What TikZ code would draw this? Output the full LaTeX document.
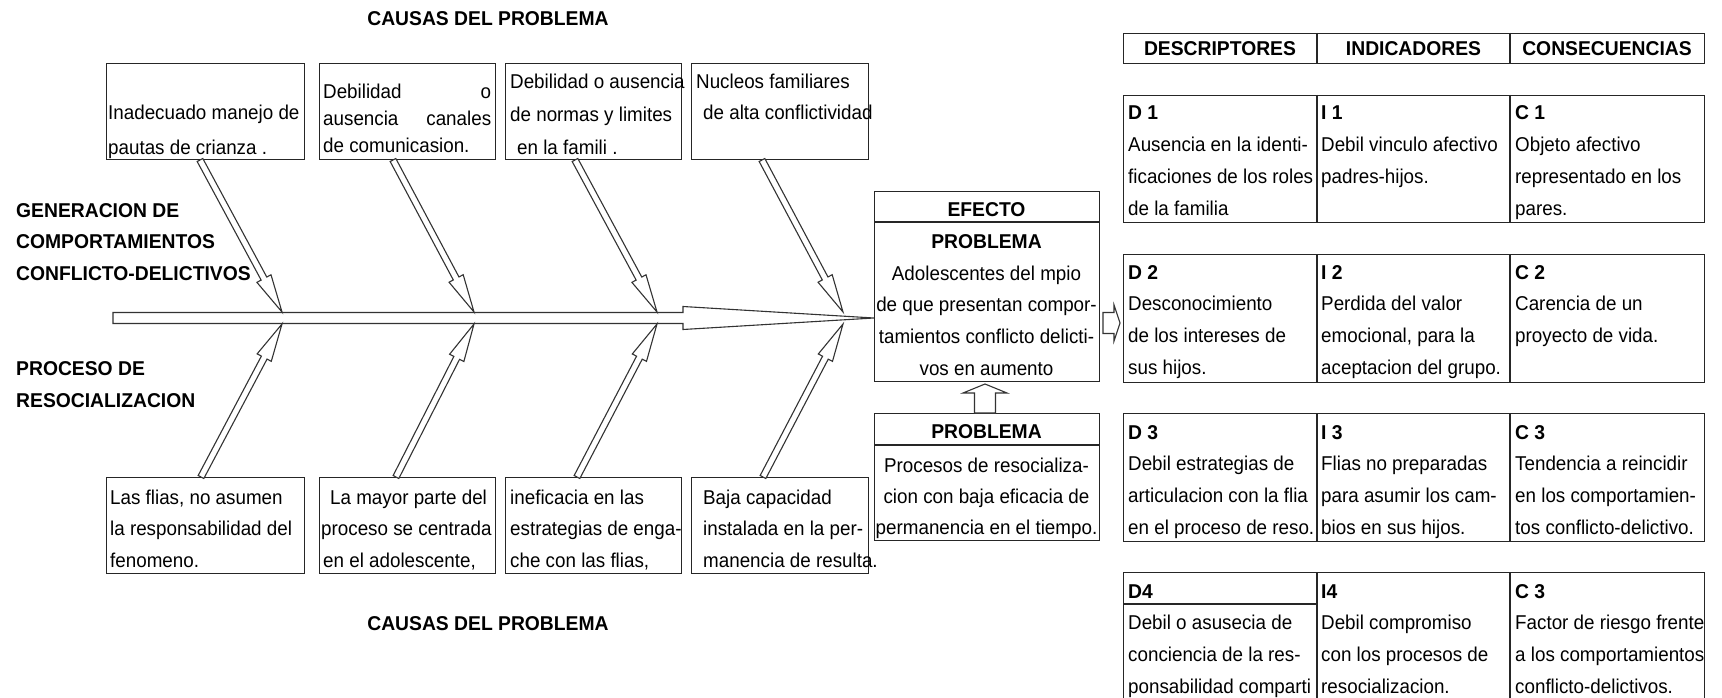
\documentclass[tikz,border=0pt]{standalone}
\usepackage{fontspec}
\setmainfont{Liberation Sans}[FakeStretch=0.94,BoldFeatures={FakeStretch=0.965}]
\usetikzlibrary{calc}
\tikzset{
 txt/.style={inner sep=0pt, font=\fontsize{20}{24}\selectfont, text=black},
 btxt/.style={inner sep=0pt, font=\fontsize{20}{24}\selectfont\bfseries, text=black},
 box/.style={draw=black!85, line width=1.4pt, inner sep=0pt, anchor=north west},
 boxline/.style={draw=black!85, line width=1.4pt},
 harr/.style={draw=black!80, line width=1.1pt, fill=white, line join=miter},
}
\newcommand\txtlines[6]{\foreach \t [count=\i] in {#6}{\node[txt,anchor=#2] (#1-\i) at (#3,{#4+(\i-1)*#5}) {\t};}}
\newcommand\harrow[5]{\coordinate (hb) at ($(#2)!#5!(#1)$);
 \draw[harr] ($(#1)!#3!90:(#2)$) -- ($(hb)!#3!90:(#2)$) -- ($(hb)!#4!90:(#2)$) -- (#2) -- ($(hb)!#4!-90:(#2)$) -- ($(hb)!#3!-90:(#2)$) -- ($(#1)!#3!-90:(#2)$) -- cycle;}
\newcommand\trow[3]{\node[box, minimum width=581pt, minimum height=#3pt-#2pt] (#1) at (1123,#2) {};
 \draw[boxline] (1317,#2) -- (1317,#3); \draw[boxline] (1510,#2) -- (1510,#3);}
\begin{document}
\begin{tikzpicture}[x=1pt,y=-1pt]
\useasboundingbox (0,0) rectangle (1722,698);
\clip (0,0) rectangle (1722,698);
\fill[white] (0,0) rectangle (1722,698);

% titles
\node[btxt,anchor=base] (causas1) at (488,26) {CAUSAS DEL PROBLEMA};
\node[btxt,anchor=base] (causas2) at (488,630) {CAUSAS DEL PROBLEMA};
\node[btxt,anchor=base west] (gen1) at (16,217) {GENERACION DE};
\node[btxt,anchor=base west] (gen2) at (16,248) {COMPORTAMIENTOS};
\node[btxt,anchor=base west] (gen3) at (16,280) {CONFLICTO-DELICTIVOS};
\node[btxt,anchor=base west] (pro1) at (16,375) {PROCESO DE};
\node[btxt,anchor=base west] (pro2) at (16,407) {RESOCIALIZACION};

% spine
\coordinate (spL) at (113,318);
\coordinate (spT) at (874,318);
\harrow{spL}{spT}{5.5pt}{11.5pt}{191pt}

% top boxes
\node[box,minimum width=198pt,minimum height=96pt] (tb1) at (106,63) {};
\node[box,minimum width=176pt,minimum height=96pt] (tb2) at (319,63) {};
\node[box,minimum width=176pt,minimum height=96pt] (tb3) at (505,63) {};
\node[box,minimum width=177pt,minimum height=96pt] (tb4) at (691,63) {};
\txtlines{t1}{base west}{108}{120}{34}{{Inadecuado manejo de},{pautas de crianza .}}
\txtlines{t2}{base west}{323}{99}{27}{{\hbox to 168pt{Debilidad\hfill o}},{\hbox to 168pt{ausencia\hfill canales}},{de comunicasion.}}
\txtlines{t3}{base west}{510}{89}{33}{{Debilidad o ausencia},{de normas y limites},{\hspace*{7pt}en la famili .}}
\node[txt,anchor=base west] (t4-1) at (696,89) {Nucleos familiares};
\node[txt,anchor=base west] (t4-2) at (703,120) {de alta conflictividad};

% bottom boxes
\node[box,minimum width=198pt,minimum height=96pt] (bb1) at (106,477) {};
\node[box,minimum width=176pt,minimum height=96pt] (bb2) at (319,477) {};
\node[box,minimum width=176pt,minimum height=96pt] (bb3) at (505,477) {};
\node[box,minimum width=177pt,minimum height=96pt] (bb4) at (691,477) {};
\txtlines{b1}{base west}{110}{504}{31.5}{{Las flias, no asumen},{la responsabilidad del},{fenomeno.}}
\txtlines{b2}{base west}{321}{504}{31.5}{{\hspace*{9pt}La mayor parte del},{proceso se centrada},{\hspace*{2pt}en el adolescente,}}
\txtlines{b3}{base west}{510}{504}{31.5}{{ineficacia en las},{estrategias de enga-},{che con las flias,}}
\txtlines{b4}{base west}{703}{504}{31.5}{{Baja capacidad},{instalada en la per-},{manencia de resulta.}}

% branch arrows
\coordinate (ta1) at (200,160); \coordinate (te1) at (282,312);
\coordinate (ta2) at (393,160); \coordinate (te2) at (474,312);
\coordinate (ta3) at (575,160); \coordinate (te3) at (657,312);
\coordinate (ta4) at (762,160); \coordinate (te4) at (843,312);
\coordinate (ba1) at (201,477); \coordinate (be1) at (282,324);
\coordinate (ba2) at (396,477); \coordinate (be2) at (474,324);
\coordinate (ba3) at (577,477); \coordinate (be3) at (657,324);
\coordinate (ba4) at (763,477); \coordinate (be4) at (843,324);
\foreach \k in {1,2,3,4}{
 \harrow{ta\k}{te\k}{3.2pt}{8pt}{38pt}
 \harrow{ba\k}{be\k}{3.2pt}{8pt}{38pt}
}

% effect box
\node[box,minimum width=225pt,minimum height=190pt] (eff) at (874,191) {};
\draw[boxline] (874,222) -- (1099,222);
\node[btxt,anchor=base] (effT) at (986.5,216) {EFECTO};
\node[btxt,anchor=base] (effP) at (986.5,248) {PROBLEMA};
\txtlines{e}{base}{986.5}{280}{31.7}{{Adolescentes del mpio},{de que presentan compor-},{tamientos conflicto delicti-},{vos en aumento}}

% lower problem box
\node[box,minimum width=225pt,minimum height=127pt] (prob) at (874,413) {};
\draw[boxline] (874,445) -- (1099,445);
\node[btxt,anchor=base] (probP) at (986.5,438) {PROBLEMA};
\txtlines{p}{base}{986.5}{472}{31}{{Procesos de resocializa-},{cion con baja eficacia de},{permanencia en el tiempo.}}

% small hollow arrows
\coordinate (ua1) at (985,413); \coordinate (ua2) at (985,384);
\harrow{ua1}{ua2}{10.5pt}{22pt}{9pt}
\coordinate (ra1) at (1103,323); \coordinate (ra2) at (1120,323);
\harrow{ra1}{ra2}{10.5pt}{18pt}{6pt}

% table header
\trow{hdr}{33}{63}
\node[btxt,anchor=base] (h1) at (1220,56) {DESCRIPTORES};
\node[btxt,anchor=base] (h2) at (1413.5,56) {INDICADORES};
\node[btxt,anchor=base] (h3) at (1607,56) {CONSECUENCIAS};

% rows
\trow{r1}{95}{222}
\txtlines{d1}{base west}{1128}{120}{31.7}{{\bfseries D 1},{Ausencia en la identi-},{ficaciones de los roles},{de la familia}}
\txtlines{i1}{base west}{1321}{120}{31.7}{{\bfseries I 1},{Debil vinculo afectivo},{padres-hijos.}}
\txtlines{c1}{base west}{1515}{120}{31.7}{{\bfseries C 1},{Objeto afectivo},{representado en los},{pares.}}

\trow{r2}{254}{382}
\txtlines{d2}{base west}{1128}{279}{31.7}{{\bfseries D 2},{Desconocimiento},{de los intereses de},{sus hijos.}}
\txtlines{i2}{base west}{1321}{279}{31.7}{{\bfseries I 2},{Perdida del valor},{emocional, para la},{aceptacion del grupo.}}
\txtlines{c2}{base west}{1515}{279}{31.7}{{\bfseries C 2},{Carencia de un},{proyecto de vida.}}

\trow{r3}{413}{541}
\txtlines{d3}{base west}{1128}{439}{31.7}{{\bfseries D 3},{Debil estrategias de},{articulacion con la flia},{en el proceso de reso.}}
\txtlines{i3}{base west}{1321}{439}{31.7}{{\bfseries I 3},{Flias no preparadas},{para asumir los cam-},{bios en sus hijos.}}
\txtlines{c3}{base west}{1515}{439}{31.7}{{\bfseries C 3},{Tendencia a reincidir},{en los comportamien-},{tos conflicto-delictivo.}}

\trow{r4}{572}{730}
\draw[boxline] (1123,604) -- (1317,604);
\txtlines{d4}{base west}{1128}{598}{31.7}{{\bfseries D4},{Debil o asusecia de},{conciencia de la res-},{ponsabilidad comparti}}
\txtlines{i4}{base west}{1321}{598}{31.7}{{\bfseries I4},{Debil compromiso},{con los procesos de},{resocializacion.}}
\txtlines{c4}{base west}{1515}{598}{31.7}{{\bfseries C 3},{Factor de riesgo frente},{a los comportamientos},{conflicto-delictivos.}}
\end{tikzpicture}
\end{document}
